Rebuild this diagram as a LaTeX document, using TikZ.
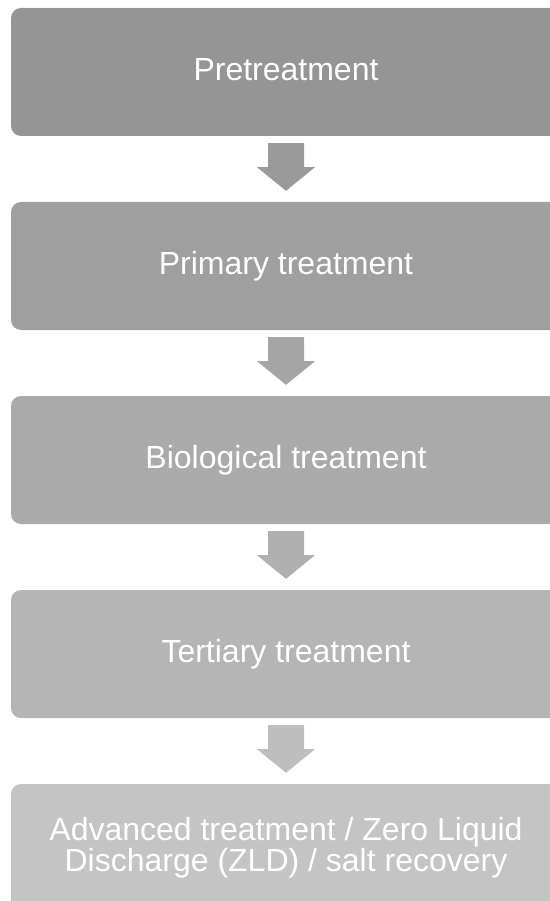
\documentclass[tikz,border=0pt]{standalone}
\usepackage{fontspec}
\setmainfont{Liberation Sans}
\usepackage{xcolor}
\usepackage{tikz}
\usetikzlibrary{calc}
\definecolor{wgrayA}{HTML}{959595}
\definecolor{wgrayB}{HTML}{9F9F9F}
\definecolor{wgrayC}{HTML}{AAAAAA}
\definecolor{wgrayD}{HTML}{B5B5B5}
\definecolor{wgrayE}{HTML}{C4C4C4}
\definecolor{wflowA}{HTML}{9A9A9A}
\definecolor{wflowB}{HTML}{A5A5A5}
\definecolor{wflowC}{HTML}{B0B0B0}
\definecolor{wflowD}{HTML}{BEBEBE}

\begin{document}
\begin{tikzpicture}[
    x=1pt, y=-1pt,
    stage/.style={rectangle, rounded corners=10pt, minimum width=550pt, minimum height=128pt, inner sep=0pt, text=white, font=\fontsize{32}{31}\selectfont, align=center},
    oneline/.style={text height=23pt, text depth=6pt},
]
    \useasboundingbox (0,0) rectangle (549,901);
    \node[stage, oneline, fill=wgrayA] (pre) at (286,72) {Pretreatment};
    \node[stage, oneline, fill=wgrayB] (prim) at (286,266) {Primary treatment};
    \node[stage, oneline, fill=wgrayC] (bio) at (286,460) {Biological treatment};
    \node[stage, oneline, fill=wgrayD] (tert) at (286,654) {Tertiary treatment};
    \node[stage, fill=wgrayE] (adv) at (286,848) {Advanced treatment / Zero Liquid\\Discharge (ZLD) / salt recovery};
    % block arrows between the stages
    \foreach \a/\b/\c in {pre/prim/wflowA, prim/bio/wflowB, bio/tert/wflowC, tert/adv/wflowD}
        \fill[\c] ($(\a.south)+(-18,7)$) -- ($(\a.south)+(18,7)$) -- ($(\a.south)+(18,31)$)
            -- ($(\a.south)+(29,31)$) -- ($(\b.north)+(0,-11)$) -- ($(\a.south)+(-29,31)$)
            -- ($(\a.south)+(-18,31)$) -- cycle;
\end{tikzpicture}
\end{document}
